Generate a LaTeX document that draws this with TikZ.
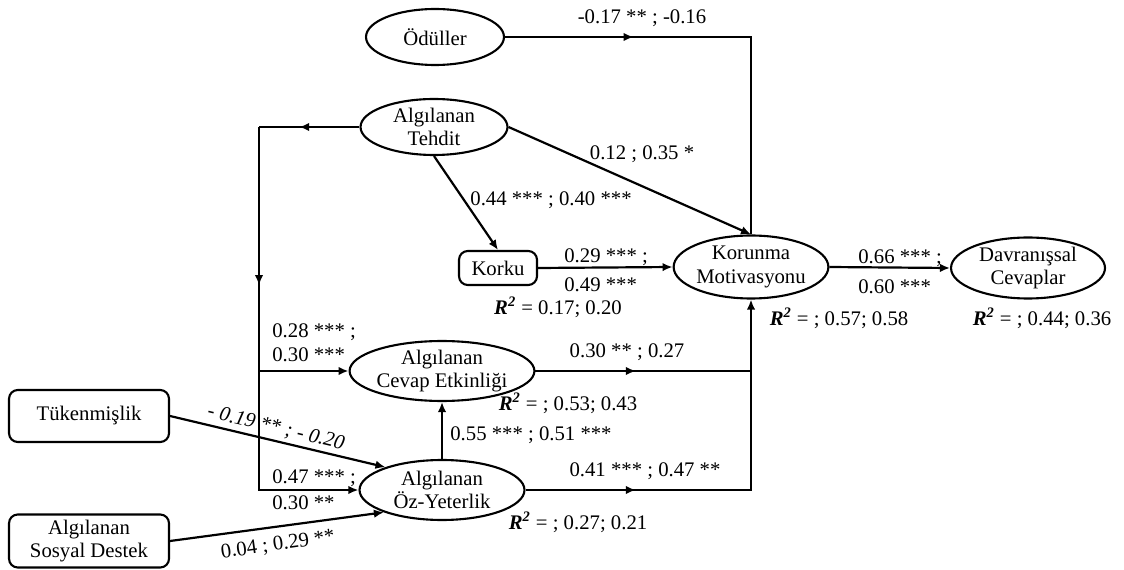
\documentclass[tikz,border=0pt]{standalone}
\usepackage{fontspec}
\setmainfont{Liberation Serif}
\usepackage{tikz}
\usetikzlibrary{arrows.meta,shapes.geometric,decorations.markings}
\newcommand{\rsq}{\textbf{\textit{R}}\textsuperscript{\textbf{\textit{2}}}}

\begin{document}
\begin{tikzpicture}[x=0.02cm,y=-0.02cm,
    font=\fontsize{11.8}{13.4}\selectfont,
    >={Latex[length=2mm,width=1.7mm]},
    latent/.style={ellipse,draw,line width=1.2pt,inner sep=0pt,align=center},
    obsbox/.style={rectangle,rounded corners=5pt,draw,line width=1.2pt,inner sep=0pt,align=center},
    link/.style={line width=1.25pt},
    midarr/.style={postaction={decorate},decoration={markings,mark=at position #1 with {\arrow{>}}}},
    coef/.style={inner sep=0pt}]
  \useasboundingbox (0,0) rectangle (1124,570);
  \node[latent,minimum width=2.76cm,minimum height=1.12cm] (oduller) at (435,37) {Ödüller};
  \node[latent,minimum width=2.94cm,minimum height=1.12cm] (tehdit) at (434,127) {Algılanan\\Tehdit};
  \node[obsbox,minimum width=1.56cm,minimum height=0.68cm] (korku) at (498,268) {Korku};
  \node[latent,minimum width=3.06cm,minimum height=1.26cm] (korunma) at (751,267) {Korunma\\Motivasyonu};
  \node[latent,minimum width=3.08cm,minimum height=1.22cm] (davranis) at (1028,268) {Davranışsal\\Cevaplar};
  \node[latent,minimum width=3.3cm,minimum height=1.16cm] (cevap) at (442,371) {Algılanan\\Cevap Etkinliği};
  \node[latent,minimum width=3.3cm,minimum height=1.2cm] (ozyet) at (442,490) {Algılanan\\Öz-Yeterlik};
  \node[obsbox,minimum width=3.2cm,minimum height=1.04cm] (tuken) at (89,416) {Tükenmişlik};
  \node[obsbox,minimum width=3.2cm,minimum height=1.06cm] (sosyal) at (89,541) {Algılanan\\Sosyal Destek};
  \coordinate (odcorner) at (751,37);
  \coordinate (tcorner) at (259,127);
  \coordinate (tbottom) at (259,490);
  \coordinate (tcevap) at (259,371);
  \coordinate (kjoin) at (751,371);
  \coordinate (kbottom) at (751,490);
  \draw[link,midarr=0.29] (oduller.east) -- (odcorner) -- (korunma.north);
  \draw[link,->] (tehdit.east) -- (korunma.north);
  \draw[link,->] (tehdit.south) -- (korku.north);
  \draw[link,->] (korku.east) -- (korunma.west);
  \draw[link,->] (korunma.east) -- (davranis.west);
  \draw[link,midarr=0.6] (tehdit.west) -- (tcorner);
  \draw[link,->,midarr=0.342] (tcorner) -- (tbottom) -- (ozyet.west);
  \draw[link,->] (tcevap) -- (cevap.west);
  \draw[link,->,midarr=0.35] (cevap.east) -- (kjoin) -- (korunma.south);
  \draw[link,midarr=0.32] (ozyet.east) -- (kbottom) -- (kjoin);
  \draw[link,->] (ozyet.north) -- (cevap.south);
  \draw[link,->] (tuken.east) -- (ozyet.158);
  \draw[link,->] (sosyal.east) -- (ozyet.201);
  \node[coef] (c1) at (642,18) {-0.17 ** ; -0.16};
  \node[coef] (c2) at (642,154) {0.12 ; 0.35 *};
  \node[coef] (c3) at (551,200) {0.44 *** ; 0.40 ***};
  \node[coef,anchor=west] (c4a) at (564,257) {0.29 *** ;};
  \node[coef,anchor=west] (c4b) at (564,285) {0.49 ***};
  \node[coef,anchor=west] (c5a) at (858,258) {0.66 *** ;};
  \node[coef,anchor=west] (c5b) at (858,287) {0.60 ***};
  \node[coef] (r1) at (558,307) {\rsq{} = 0.17; 0.20};
  \node[coef] (r2) at (839,318) {\rsq{} = ; 0.57; 0.58};
  \node[coef] (r3) at (1042,318) {\rsq{} = ; 0.44; 0.36};
  \node[coef,anchor=west] (c6a) at (272,332) {0.28 *** ;};
  \node[coef,anchor=west] (c6b) at (272,355) {0.30 ***};
  \node[coef] (c7) at (627,352) {0.30 ** ; 0.27};
  \node[coef] (r4) at (568,403) {\rsq{} = ; 0.53; 0.43};
  \node[coef,anchor=west] (c8) at (450,435) {0.55 *** ; 0.51 ***};
  \node[coef,anchor=west] (c9a) at (272,478) {0.47 *** ;};
  \node[coef,anchor=west] (c9b) at (272,503) {0.30 **};
  \node[coef] (c10) at (645,471) {0.41 *** ; 0.47 **};
  \node[coef] (r5) at (578,522) {\rsq{} = ; 0.27; 0.21};
  \node[coef,rotate=-13.5,font=\fontsize{11.8}{13.4}\selectfont\itshape] (c11) at (276,428) {- 0.19 ** ; - 0.20};
  \node[coef,rotate=8] (c12) at (278,545) {0.04 ; 0.29 **};
\end{tikzpicture}
\end{document}
